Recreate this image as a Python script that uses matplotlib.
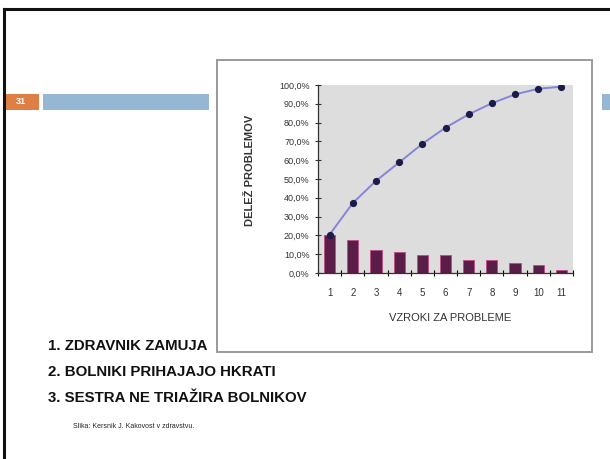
import numpy as np
import matplotlib
matplotlib.use("Agg")
import matplotlib.pyplot as plt
from matplotlib.patches import Rectangle
from matplotlib.lines import Line2D

plt.rcParams['font.family'] = ['Liberation Sans', 'DejaVu Sans']

# data
causes = [1, 2, 3, 4, 5, 6, 7, 8, 9, 10, 11]
share = [20.4, 17.7, 12.0, 11.0, 9.7, 9.7, 7.1, 6.7, 5.5, 4.4, 1.6]
cumulative = [20.4, 37.2, 49.0, 58.8, 68.7, 77.3, 84.4, 90.3, 95.0, 98.0, 99.1]
y_ticks = [0, 10, 20, 30, 40, 50, 60, 70, 80, 90, 100]
bullets = ["1. ZDRAVNIK ZAMUJA", "2. BOLNIKI PRIHAJAJO HKRATI", "3. SESTRA NE TRIAŽIRA BOLNIKOV"]
source = "Slika: Kersnik J. Kakovost v zdravstvu."
slide_no = "31"

W, H = 610, 459
fig = plt.figure(figsize=(W / 100, H / 100), dpi=100)
fig.patch.set_facecolor('white')

def fx(px):
    return px / W

def fy(py):
    return 1 - py / H

# slide frame (cropped: only top and left edges visible)
fig.add_artist(Line2D([fx(4), 1.0], [fy(9), fy(9)], color='#111111', lw=2.2))
fig.add_artist(Line2D([fx(4), fx(4)], [fy(9), 0.0], color='#111111', lw=2.2))

# header strip
fig.add_artist(Rectangle((fx(5), fy(110)), fx(34), 16 / H, color='#e07f45', lw=0))
fig.text(fx(21), fy(102), slide_no, color='white', fontsize=6.5, fontweight='bold',
         ha='center', va='center')
fig.add_artist(Rectangle((fx(43), fy(110)), fx(166), 16 / H, color='#96b7d3', lw=0))
fig.add_artist(Rectangle((fx(602), fy(110)), fx(8), 16 / H, color='#96b7d3', lw=0))

# picture frame, kept behind the chart axes
fig.add_artist(Rectangle((fx(217), fy(352)), fx(375), 292 / H, facecolor='white',
                         edgecolor='#9a9a9a', lw=1.4, zorder=-5))

# chart
ax = fig.add_axes([fx(318), fy(273), fx(255), 188 / H])
ax.set_zorder(2)
ax.set_facecolor('#dddddd')
ax.bar(causes, share, width=0.48, color='#5a1d48', edgecolor='#c04a86', lw=0.6, zorder=2)
ax.plot(causes, cumulative, color='#8585d8', lw=1.4, zorder=3)
ax.plot(causes, cumulative, 'o', color='#1c1c4a', ms=4.2, zorder=4)

ax.set_xlim(0.5, 11.5)
ax.set_ylim(0, 100)
ax.set_yticks(y_ticks)
ax.set_yticklabels([f"{v:.1f}%".replace('.', ',') for v in y_ticks])
ax.set_xticks(causes)
ax.set_xticks(np.arange(0.5, 12, 1), minor=True)
ax.tick_params(axis='x', which='major', length=0, pad=11, labelsize=7, colors='#333333')
ax.tick_params(axis='x', which='minor', direction='inout', length=4, width=0.8)
ax.tick_params(axis='y', direction='inout', length=4, width=0.8, labelsize=6.5,
               pad=4, colors='#333333')
for s in ['top', 'right']:
    ax.spines[s].set_visible(False)
for s in ['left', 'bottom']:
    ax.spines[s].set_linewidth(0.9)
    ax.spines[s].set_color('#333333')

fig.text(fx(450), fy(318), "VZROKI ZA PROBLEME", fontsize=8, color='#333333',
         ha='center', va='center')
fig.text(fx(250), fy(170), "DELEŽ PROBLEMOV", fontsize=8, color='#333333',
         ha='center', va='center', rotation=90, fontweight='bold')

# bullet text
for i, t in enumerate(bullets):
    fig.text(fx(48), fy(346 + 26 * i), t, fontsize=10.8, fontweight='bold',
             ha='left', va='center', color='#111111')
fig.text(fx(73), fy(427), source, fontsize=5, ha='left', va='center', color='#222222')

fig.savefig("out.png", dpi=100)
